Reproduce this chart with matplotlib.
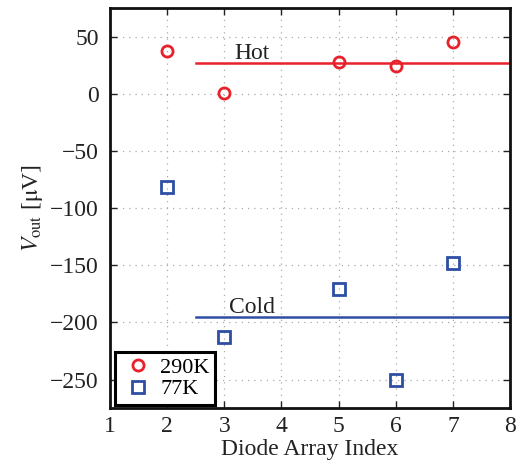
import matplotlib
matplotlib.use("Agg")
import matplotlib.pyplot as plt

# measured output voltage per diode array
idx_hot = [2, 3, 5, 6, 7]
v_hot = [37, 1, 28, 24, 45]
idx_cold = [2, 3, 5, 6, 7]
v_cold = [-82, -213, -171, -250, -148]
hot_level = 27
cold_level = -195

plt.rcParams['font.family'] = ['Liberation Serif', 'DejaVu Serif']
plt.rcParams['mathtext.fontset'] = 'stix'

red = '#e8212b'
blue = '#2e4ea3'

fig = plt.figure(figsize=(5.26, 4.68), dpi=100)
ax = fig.add_axes([0.209, 0.128, 0.761, 0.855])

ax.plot(idx_hot, v_hot, 'o', ms=8, mfc='none', mec=red, mew=2, label='290K', zorder=3)
ax.plot(idx_cold, v_cold, 's', ms=8, mfc='none', mec=blue, mew=2, label='77K', zorder=3)
ax.plot([2.5, 8], [hot_level, hot_level], color=red, lw=1.8)
ax.plot([2.5, 8], [cold_level, cold_level], color=blue, lw=1.8)
ax.text(3.17, hot_level + 3, 'Hot', fontsize=17, color='#222222')
ax.text(3.08, cold_level + 3, 'Cold', fontsize=17, color='#222222')

ax.set_xlim(1, 8)
ax.set_ylim(-275, 75)
ax.set_xticks(range(1, 9))
ax.set_yticks([50, 0, -50, -100, -150, -200, -250])
ax.set_yticklabels(['50', '0', '\u221250', '\u2212100', '\u2212150', '\u2212200', '\u2212250'])
ax.grid(True, linestyle=(0, (1, 4)), color='#aaaaaa', lw=0.9)
ax.tick_params(direction='in', labelsize=17, length=5, width=1, top=True, right=True, colors='#222222')
ax.tick_params(axis='y', pad=8)
ax.tick_params(axis='x', pad=6)
for s in ax.spines.values():
    s.set_linewidth(2)
    s.set_color('#111111')

ax.set_xlabel('Diode Array Index', fontsize=17, color='#222222', labelpad=1)
ax.set_ylabel(r'$V_{\mathrm{out}}$ [$\mathrm{\mu}$V]', fontsize=17, color='#222222', labelpad=4)

leg = ax.legend(loc='lower left', bbox_to_anchor=(0.012, 0.008), fontsize=16, fancybox=False,
                borderaxespad=0.0, handletextpad=0.2, borderpad=0.25, labelspacing=0.05,
                handlelength=1.6)
leg.get_frame().set_edgecolor('black')
leg.get_frame().set_linewidth(2.2)
leg.get_frame().set_alpha(1)

fig.savefig('out.png', dpi=100)
